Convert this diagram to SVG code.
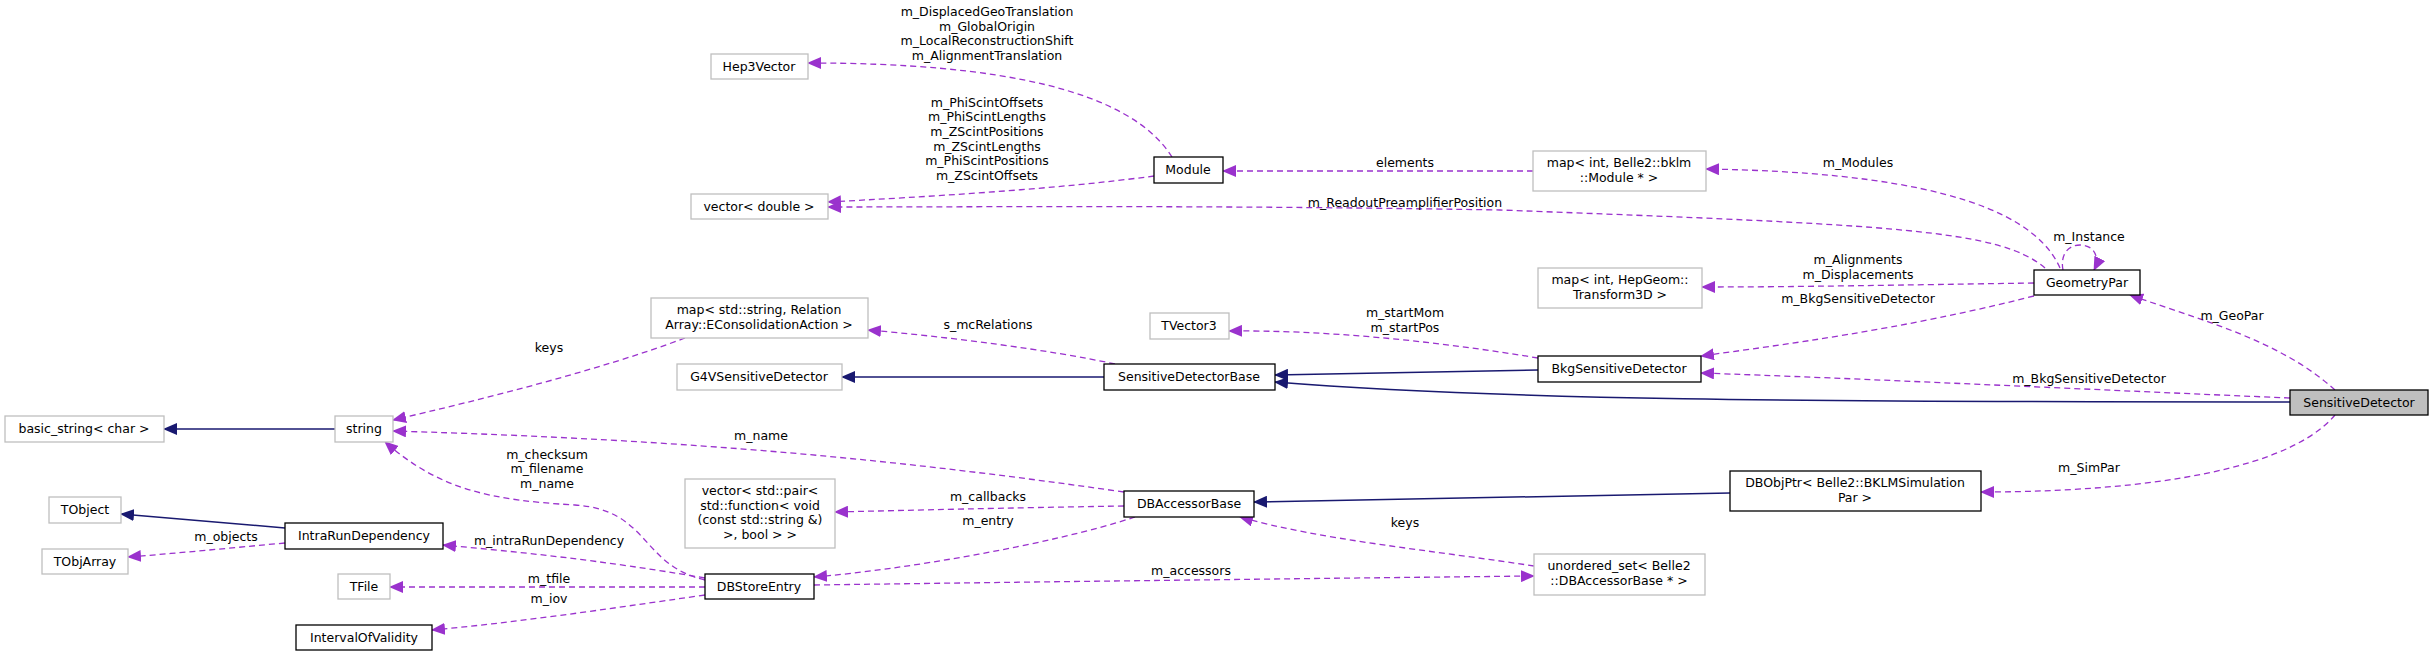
<svg xmlns="http://www.w3.org/2000/svg" width="2435" height="656" viewBox="0 0 2435 656">
<style>
text{font-family:"DejaVu Sans","Liberation Sans",sans-serif;font-size:12.5px;fill:#000;text-anchor:middle}
.g rect{fill:#fff;stroke:#bfbfbf;stroke-width:1.3}
.b rect{fill:#fff;stroke:#000;stroke-width:1.3}
.u{fill:none;stroke:#9a32cd;stroke-width:1.3;stroke-dasharray:6,4;marker-end:url(#pa)}
.i{fill:none;stroke:#191970;stroke-width:1.5;marker-end:url(#na)}
</style>
<defs>
<marker id="pa" markerUnits="userSpaceOnUse" markerWidth="14" markerHeight="12" refX="13" refY="6" orient="auto"><path d="M0,0 L14,6 L0,12 z" fill="#9a32cd"/></marker>
<marker id="na" markerUnits="userSpaceOnUse" markerWidth="14" markerHeight="12" refX="13" refY="6" orient="auto"><path d="M0,0 L14,6 L0,12 z" fill="#191970"/></marker>
</defs>
<rect width="2435" height="656" fill="#fff"/>
<g id="connectors">
<path class="u" d="M1172,157 C1130,90 1000,63 808,63"/>
<path class="u" d="M1154,176 C1050,190 920,197 828,202"/>
<path class="u" d="M2045,268 C2000,230 1900,225 1500,210 C1200,205 1000,207 828,207"/>
<path class="u" d="M1533,171 L1223,171"/>
<path class="u" d="M2060,268 C2030,200 1900,172 1706,169"/>
<path class="u" d="M2063,270 C2060,255 2068,245 2080,245 C2095,245 2100,258 2094,270"/>
<path class="u" d="M2034,283 C1900,285 1800,287 1702,287"/>
<path class="u" d="M2034,296 C1900,330 1780,345 1701,356"/>
<path class="u" d="M1538,358 C1430,340 1320,330 1229,331"/>
<path class="i" d="M1538,370 L1275,375"/>
<path class="u" d="M2290,398 C2100,390 1850,378 1701,373"/>
<path class="i" d="M2290,402 C1800,402 1500,400 1275,382"/>
<path class="u" d="M2335,390 C2280,340 2200,320 2130,295"/>
<path class="u" d="M2335,415 C2280,480 2100,492 1981,492"/>
<path class="i" d="M1730,493 L1254,502"/>
<path class="u" d="M1534,566 C1430,550 1320,540 1240,517"/>
<path class="u" d="M814,585 C1100,581 1350,578 1534,576"/>
<path class="u" d="M1115,364 C1050,350 950,337 868,330"/>
<path class="i" d="M1104,377 L842,377"/>
<path class="u" d="M685,338 C600,370 480,400 393,420"/>
<path class="i" d="M335,429 L164,429"/>
<path class="u" d="M1124,492 C900,460 700,440 393,431"/>
<path class="u" d="M1124,506 C1000,508 920,510 835,512"/>
<path class="u" d="M1135,517 C1050,545 900,570 814,577"/>
<path class="u" d="M705,580 C640,565 650,510 575,505 C490,500 440,490 385,442"/>
<path class="u" d="M705,578 C600,560 520,552 443,545"/>
<path class="i" d="M285,528 L121,514"/>
<path class="u" d="M285,543 C230,548 180,553 128,557"/>
<path class="u" d="M705,587 L390,587"/>
<path class="u" d="M705,595 C600,610 520,622 432,630"/>
</g>
<g id="edge-labels">
<text x="987" y="16">m_DisplacedGeoTranslation</text>
<text x="987" y="31">m_GlobalOrigin</text>
<text x="987" y="45">m_LocalReconstructionShift</text>
<text x="987" y="60">m_AlignmentTranslation</text>
<text x="987" y="107">m_PhiScintOffsets</text>
<text x="987" y="121">m_PhiScintLengths</text>
<text x="987" y="136">m_ZScintPositions</text>
<text x="987" y="151">m_ZScintLengths</text>
<text x="987" y="165">m_PhiScintPositions</text>
<text x="987" y="180">m_ZScintOffsets</text>
<text x="1405" y="207">m_ReadoutPreamplifierPosition</text>
<text x="1405" y="167">elements</text>
<text x="1858" y="167">m_Modules</text>
<text x="2089" y="241">m_Instance</text>
<text x="1858" y="264">m_Alignments</text>
<text x="1858" y="279">m_Displacements</text>
<text x="1858" y="303">m_BkgSensitiveDetector</text>
<text x="1405" y="317">m_startMom</text>
<text x="1405" y="332">m_startPos</text>
<text x="2089" y="383">m_BkgSensitiveDetector</text>
<text x="2232" y="320">m_GeoPar</text>
<text x="2089" y="472">m_SimPar</text>
<text x="1405" y="527">keys</text>
<text x="1191" y="575">m_accessors</text>
<text x="988" y="329">s_mcRelations</text>
<text x="549" y="352">keys</text>
<text x="761" y="440">m_name</text>
<text x="988" y="501">m_callbacks</text>
<text x="988" y="525">m_entry</text>
<text x="547" y="459">m_checksum</text>
<text x="547" y="473">m_filename</text>
<text x="547" y="488">m_name</text>
<text x="549" y="545">m_intraRunDependency</text>
<text x="226" y="541">m_objects</text>
<text x="549" y="583">m_tfile</text>
<text x="549" y="603">m_iov</text>
</g>
<g id="SensitiveDetector" class="b"><rect x="2290" y="390" width="138" height="25" style="fill:#bfbfbf;stroke:#000"/><text x="2359" y="407">SensitiveDetector</text></g>
<g id="Hep3Vector" class="g"><rect x="711" y="54" width="97" height="25"/><text x="759" y="71">Hep3Vector</text></g>
<g id="Module" class="b"><rect x="1154" y="157" width="69" height="26"/><text x="1188" y="174">Module</text></g>
<g id="vector_double" class="g"><rect x="691" y="194" width="137" height="25"/><text x="759" y="211">vector&lt; double &gt;</text></g>
<g id="map_string" class="g"><rect x="651" y="298" width="217" height="40"/><text x="759" y="314">map&lt; std::string, Relation</text><text x="759" y="329">Array::EConsolidationAction &gt;</text></g>
<g id="G4VSensitiveDetector" class="g"><rect x="677" y="364" width="165" height="26"/><text x="759" y="381">G4VSensitiveDetector</text></g>
<g id="basic_string" class="g"><rect x="5" y="416" width="159" height="26"/><text x="84" y="433">basic_string&lt; char &gt;</text></g>
<g id="string" class="g"><rect x="335" y="416" width="58" height="26"/><text x="364" y="433">string</text></g>
<g id="vector_pair" class="g"><rect x="685" y="479" width="150" height="69"/><text x="760" y="495">vector&lt; std::pair&lt;</text><text x="760" y="510">std::function&lt; void</text><text x="760" y="524">(const std::string &amp;)</text><text x="760" y="539">&gt;, bool &gt; &gt;</text></g>
<g id="TObject" class="g"><rect x="49" y="497" width="72" height="26"/><text x="85" y="514">TObject</text></g>
<g id="IntraRunDependency" class="b"><rect x="285" y="523" width="158" height="26"/><text x="364" y="540">IntraRunDependency</text></g>
<g id="TObjArray" class="g"><rect x="42" y="549" width="86" height="25"/><text x="85" y="566">TObjArray</text></g>
<g id="TFile" class="g"><rect x="338" y="574" width="52" height="25"/><text x="364" y="591">TFile</text></g>
<g id="DBStoreEntry" class="b"><rect x="705" y="574" width="109" height="25"/><text x="759" y="591">DBStoreEntry</text></g>
<g id="IntervalOfValidity" class="b"><rect x="296" y="625" width="136" height="25"/><text x="364" y="642">IntervalOfValidity</text></g>
<g id="DBAccessorBase" class="b"><rect x="1124" y="491" width="130" height="26"/><text x="1189" y="508">DBAccessorBase</text></g>
<g id="TVector3" class="g"><rect x="1150" y="313" width="79" height="26"/><text x="1189" y="330">TVector3</text></g>
<g id="SensitiveDetectorBase" class="b"><rect x="1104" y="364" width="171" height="26"/><text x="1189" y="381">SensitiveDetectorBase</text></g>
<g id="map_module" class="g"><rect x="1533" y="151" width="173" height="40"/><text x="1619" y="167">map&lt; int, Belle2::bklm</text><text x="1619" y="182">::Module * &gt;</text></g>
<g id="map_transform" class="g"><rect x="1538" y="268" width="164" height="40"/><text x="1620" y="284">map&lt; int, HepGeom::</text><text x="1620" y="299">Transform3D &gt;</text></g>
<g id="GeometryPar" class="b"><rect x="2034" y="270" width="106" height="25"/><text x="2087" y="287">GeometryPar</text></g>
<g id="BkgSensitiveDetector" class="b"><rect x="1538" y="356" width="163" height="26"/><text x="1619" y="373">BkgSensitiveDetector</text></g>
<g id="DBObjPtr" class="b"><rect x="1730" y="471" width="251" height="40"/><text x="1855" y="487">DBObjPtr&lt; Belle2::BKLMSimulation</text><text x="1855" y="502">Par &gt;</text></g>
<g id="unordered_set" class="g"><rect x="1534" y="554" width="171" height="41"/><text x="1619" y="570">unordered_set&lt; Belle2</text><text x="1619" y="585">::DBAccessorBase * &gt;</text></g>
</svg>
